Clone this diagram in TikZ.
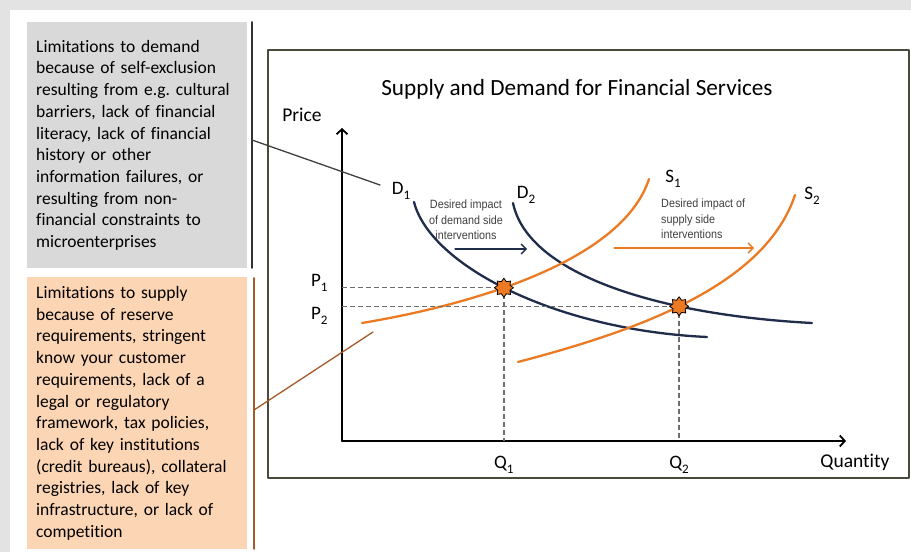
\documentclass[tikz,border=0pt]{standalone}
\usepackage{fontspec}
\setmainfont{Carlito}[Ligatures=NoCommon]
\newfontfamily\narrowfont[FakeStretch=0.9]{Liberation Sans}
\usetikzlibrary{arrows.meta,shapes.geometric,intersections,positioning,calc}

\definecolor{pagegray}{HTML}{E3E3E3}
\definecolor{notegray}{HTML}{D9D9D9}
\definecolor{notepeach}{HTML}{FCD5B4}
\definecolor{navy}{HTML}{1F2D4A}
\definecolor{curveorange}{HTML}{EB7A23}
\definecolor{framegray}{HTML}{4A4A3C}
\definecolor{barbrown}{HTML}{A35A28}
\definecolor{guidegray}{HTML}{6E6E6E}

% label with a lowered index, e.g. D_1
\newcommand{\idxlabel}[2]{#1\raisebox{-0.5ex}{\fontsize{13}{13}\selectfont #2}}

\begin{document}
\frenchspacing
\begin{tikzpicture}[x=1pt,y=-1pt,line cap=round,line join=round,
        note/.style={anchor=north west,minimum width=220pt,minimum height=#1,
          text width=202pt,inner xsep=9pt,inner ysep=0pt,align=left,
          font=\fontsize{17.5}{21.7}\selectfont},
        demand/.style={navy,line width=2.3pt},
        supply/.style={curveorange,line width=2.3pt},
        guide/.style={guidegray,line width=1.4pt,line cap=butt,dash pattern=on 5pt off 3pt},
        axis/.style={line width=1.8pt,-{Straight Barb[length=5pt,width=11pt]}},
        shift arrow/.style={line width=1.3pt,-{Straight Barb[length=5pt,width=10pt]}},
        equilibrium/.style={star,star points=8,star point ratio=1.45,minimum size=19pt,
          inner sep=0pt,fill=curveorange,draw=black,line width=0.8pt},
        curvelabel/.style={font=\fontsize{19}{19}\selectfont},
        impact/.style={font=\narrowfont\fontsize{12}{15.5}\selectfont,text=black!75,inner sep=0pt}]

        %% Page and chart frame.
        \fill[pagegray] (0,0) rectangle (911,552);
        \fill[white] (10,10) rectangle (911,552);
        \useasboundingbox (0,0) rectangle (911,552);
        \draw[framegray,line width=1.6pt] (268,50) rectangle (909,478);

        %% Notes on the left.
        \node[note=246pt,fill=notegray] (demandnote) at (27,22) {%
          Limitations to demand\\ because of self-exclusion\\ resulting from e.g. cultural\\
          barriers, lack of financial\\ literacy, lack of financial\\ history or other\\
          information failures, or\\ resulting from non-\\ financial constraints to\\
          microenterprises};
        \node[note=272pt,fill=notepeach] (supplynote) at (27,277) {%
          Limitations to supply\\ because of reserve\\ requirements, stringent\\
          know your customer\\ requirements, lack of a\\ legal or regulatory\\
          framework, tax policies,\\ lack of key institutions\\ (credit bureaus), collateral\\
          registries, lack of key\\ infrastructure, or lack of\\ competition};
        \draw[black!80,line width=1.6pt] (252,22) -- (252,268);
        \draw[barbrown,line width=1.6pt] (254,278) -- (254,549);

        %% Axes.
        \coordinate (origin) at (342,441);
        \draw[axis] (origin) -- (342,128) coordinate (ytop);
        \draw[axis] (origin) -- (846,441) coordinate (xend);
        \node[font=\fontsize{19.5}{19.5}\selectfont] (price) at (302,115) {Price};
        \node[font=\fontsize{19.5}{19.5}\selectfont] (quantity) at (855,462) {Quantity};
        \node[font=\fontsize{23.2}{23.2}\selectfont] (title) at (577,89)
          {Supply and Demand for Financial Services};

        %% Demand and supply curves.
        \draw[demand,name path=d1] (414,202) .. controls (430,265) and (555,330) .. (707,337);
        \draw[demand,name path=d2] (513,203) .. controls (528,275) and (660,315) .. (812,323);
        \draw[supply,name path=s1] (362,323) .. controls (470,305) and (622,262) .. (649,179);
        \draw[supply,name path=s2] (518,362) .. controls (640,330) and (765,285) .. (795,195);
        \path[name intersections={of=d1 and s1,by=cross1}];
        \path[name intersections={of=d2 and s2,by=cross2}];

        % Guides to the axes, then the equilibrium marks.
        \foreach \pt in {cross1,cross2} {
          \draw[guide] (origin |- \pt) -- (\pt) -- (\pt |- origin);
        }
        \node[equilibrium] (eq1) at (cross1) {};
        \node[equilibrium] (eq2) at (cross2) {};

        %% Curve and axis labels.
        \node[curvelabel] (D1) at (401,191) {\idxlabel{D}{1}};
        \node[curvelabel] (D2) at (526,195) {\idxlabel{D}{2}};
        \node[curvelabel] (S1) at (673,179) {\idxlabel{S}{1}};
        \node[curvelabel] (S2) at (812,196) {\idxlabel{S}{2}};
        \node[curvelabel,anchor=east] (P1) at (331,283) {\idxlabel{P}{1}};
        \node[curvelabel,anchor=east] (P2) at (331,316) {\idxlabel{P}{2}};
        \node[curvelabel] (Q1) at (eq1 |- 0,465) {\idxlabel{Q}{1}};
        \node[curvelabel] (Q2) at (eq2 |- 0,465) {\idxlabel{Q}{2}};

        %% Desired shifts.
        \node[impact,align=center] (demandimpact) at (466,220)
          {Desired impact\\ of demand side\\ interventions};
        \node[impact,align=left,anchor=west] (supplyimpact) at (661,219)
          {Desired impact of\\ supply side\\ interventions};
        \coordinate (dfrom) at (455,249);
        \coordinate (dto) at (527,249);
        \coordinate (sfrom) at (614,248);
        \coordinate (sto) at (754,248);
        \draw[shift arrow,navy] (dfrom) -- (dto);
        \draw[shift arrow,curveorange] (sfrom) -- (sto);

        %% Pointers from the notes.
        \coordinate (demandfoot) at (252,140);
        \coordinate (demandtip) at (380,185);
        \coordinate (supplyfoot) at (254,410);
        \coordinate (supplytip) at (373,332);
        \draw[black!75,line width=1.3pt] (demandfoot) -- (demandtip);
        \draw[barbrown,line width=1.3pt] (supplyfoot) -- (supplytip);
      \end{tikzpicture}
\end{document}
